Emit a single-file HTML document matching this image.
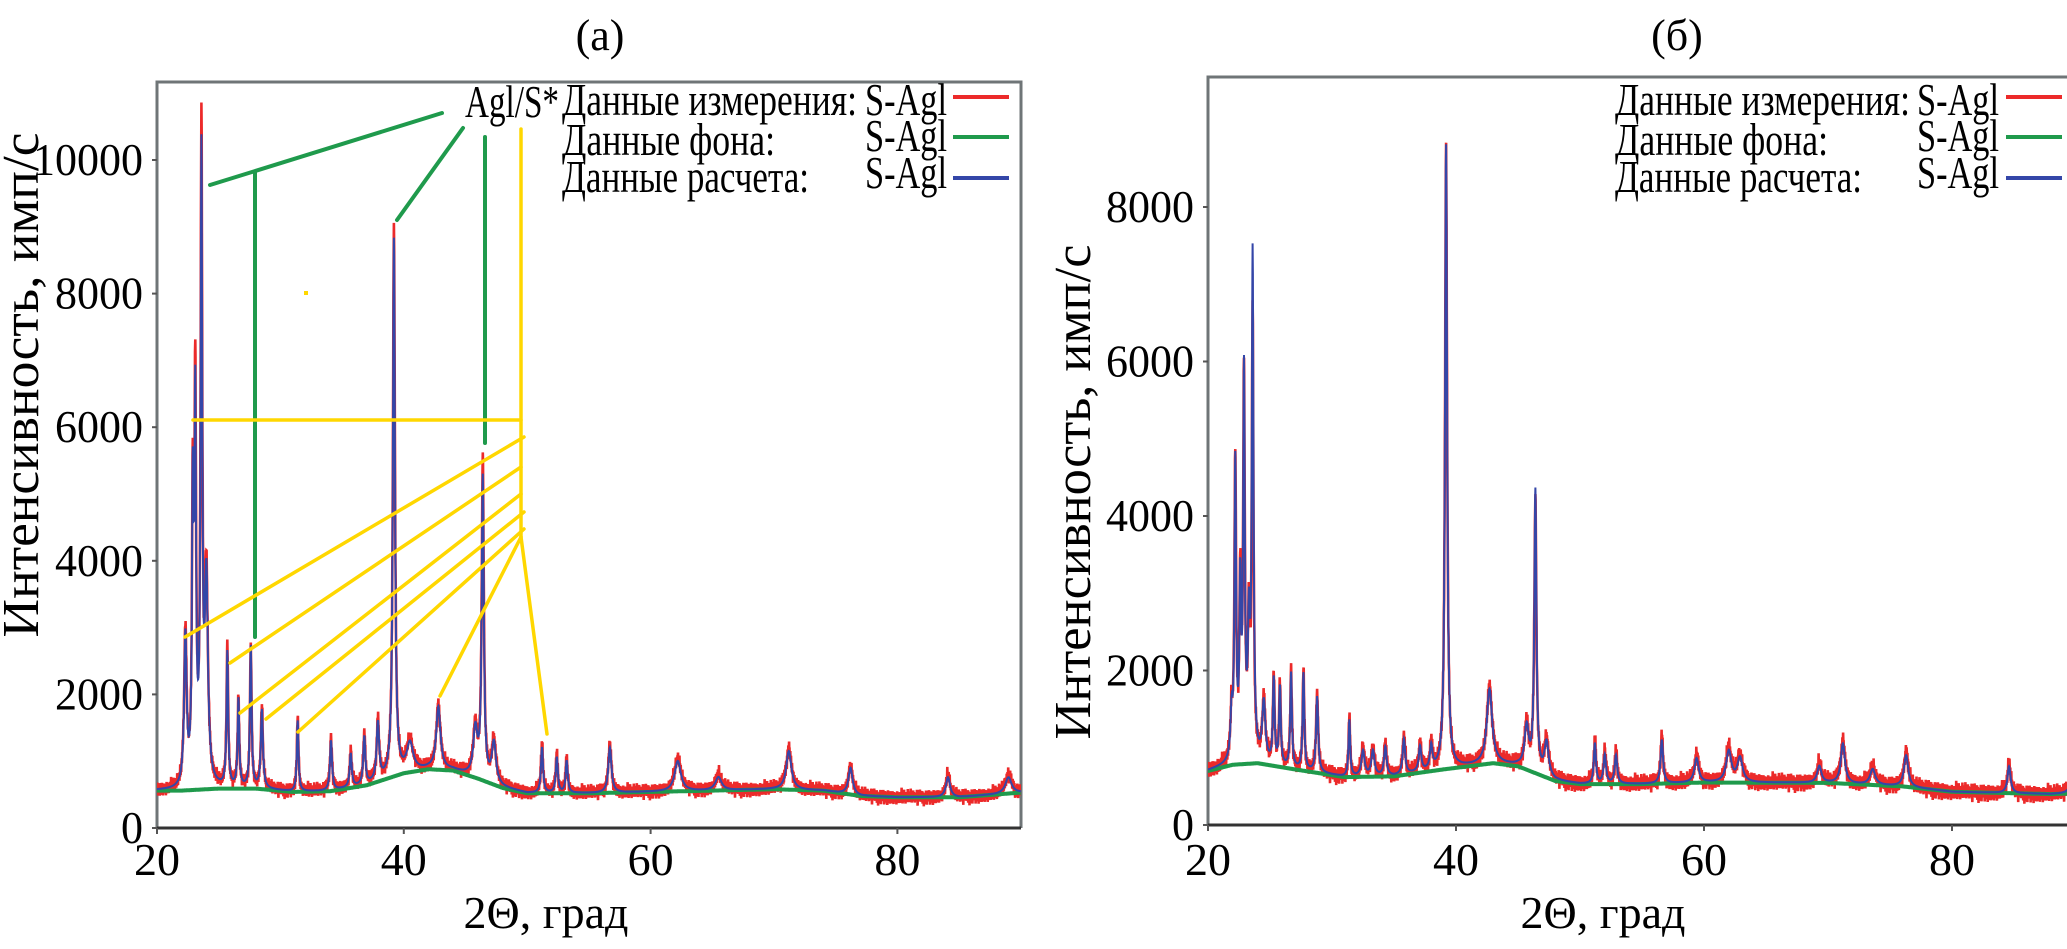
<!DOCTYPE html>
<html><head><meta charset="utf-8">
<style>
html,body{margin:0;padding:0;background:#fff;}
svg{display:block;}
text{font-family:"Liberation Serif","DejaVu Serif",serif;fill:#000;}
</style></head>
<body>
<svg id="chart" xmlns="http://www.w3.org/2000/svg" width="2067" height="949" viewBox="0 0 2067 949">
  <defs>
    <clipPath id="clipA"><rect x="157" y="82" width="864" height="746"/></clipPath>
    <clipPath id="clipB"><rect x="1208" y="77" width="859" height="750"/></clipPath>
  </defs>
  <text x="600" y="50" font-size="44" text-anchor="middle">(а)</text>
  <text x="1677" y="50" font-size="44" text-anchor="middle">(б)</text>
  <g id="panelA"></g>
  <g id="panelB"></g>
</svg>
<script>
// ---------- data: panel (a) ----------
const bgAX = [20, 22, 25, 28, 31, 34, 37, 40, 42, 44, 46, 48, 50, 55, 60, 65, 70, 74, 77, 80, 85, 90];
const bgAY = [560, 560, 590, 590, 540, 550, 640, 820, 880, 860, 740, 600, 520, 520, 540, 560, 580, 560, 480, 460, 460, 530];
const peakAPos = [22.3, 22.9, 23.1, 23.6, 24.0, 25.7, 26.6, 27.6, 28.5, 31.4, 34.1, 35.7, 36.8, 37.9, 39.2, 40.5, 42.8, 45.8, 46.4, 47.3, 51.2, 52.4, 53.2, 56.7, 62.2, 65.5, 71.2, 76.2, 84.1, 89.0];
const peakAMeas = [2900, 4800, 6400, 10250, 3700, 2700, 1950, 2700, 1800, 1650, 1350, 1150, 1400, 1600, 9000, 1300, 1850, 1500, 5500, 1300, 1250, 1100, 1050, 1250, 1050, 800, 1200, 950, 800, 800];
const peakACalc = [2800, 4700, 6000, 9800, 3600, 2600, 1900, 2700, 1750, 1600, 1300, 1100, 1350, 1550, 8800, 1250, 1800, 1450, 5200, 1250, 1200, 1050, 1000, 1200, 1000, 760, 1150, 900, 760, 760];
const peakAWid = [0.12, 0.08, 0.08, 0.08, 0.15, 0.08, 0.08, 0.08, 0.1, 0.08, 0.1, 0.1, 0.1, 0.12, 0.1, 0.3, 0.2, 0.2, 0.1, 0.2, 0.1, 0.1, 0.1, 0.15, 0.3, 0.3, 0.25, 0.2, 0.2, 0.3];
// ---------- data: panel (b) ----------
const bgBX = [20, 22, 24, 27, 31, 35, 39, 43, 45, 48, 50, 55, 60, 70, 76, 80, 88, 90];
const bgBY = [700, 780, 800, 720, 620, 630, 720, 800, 760, 570, 530, 530, 550, 545, 500, 430, 400, 410];
const peakBPos = [21.9, 22.2, 22.6, 22.9, 23.3, 23.6, 24.5, 25.3, 25.8, 26.7, 27.7, 28.8, 31.4, 32.5, 33.3, 34.3, 35.8, 37.1, 38.0, 39.2, 42.7, 45.7, 46.4, 47.3, 51.2, 52.0, 52.9, 56.6, 59.4, 62.0, 62.9, 69.3, 71.2, 73.6, 76.3, 84.6, 89.8];
const peakBMeas = [1400, 4700, 3000, 5700, 2500, 6500, 1600, 1900, 1800, 2000, 2000, 1700, 1400, 1000, 1000, 1050, 1150, 1050, 1050, 8800, 1800, 1300, 4200, 1100, 1100, 950, 950, 1150, 900, 1000, 900, 800, 1100, 750, 950, 800, 800];
const peakBCalc = [1350, 4600, 2900, 5700, 2400, 7250, 1550, 1850, 1750, 1950, 1950, 1650, 1350, 950, 950, 1000, 1100, 1000, 1000, 8800, 1750, 1250, 4300, 1050, 1050, 900, 900, 1100, 860, 950, 860, 760, 1050, 720, 900, 760, 760];
const peakBWid = [0.1, 0.08, 0.08, 0.08, 0.1, 0.08, 0.15, 0.08, 0.08, 0.08, 0.08, 0.1, 0.08, 0.15, 0.15, 0.12, 0.12, 0.12, 0.12, 0.1, 0.25, 0.2, 0.1, 0.2, 0.1, 0.12, 0.12, 0.12, 0.2, 0.25, 0.25, 0.2, 0.2, 0.25, 0.2, 0.15, 0.2];
// measurement scatter offsets (counts), cycled along the scan
const noise = [40, -60, 95, -20, -110, 70, 10, -85, 120, -35, 55, -130, 25, 85, -55, -5, 105, -95, 35, -70, 140, -15, -45, 65, -120, 15, 90, -80, 50, -25, 110, -100, 0, 75, -65, 30, -140];
const xTicks = [20, 40, 60, 80];
const yTicksA = [0, 2000, 4000, 6000, 8000, 10000];
const yTicksB = [0, 2000, 4000, 6000, 8000];

const NS = 'http://www.w3.org/2000/svg';
function mk(tag, parent, attrs) {
  const e = document.createElementNS(NS, tag);
  for (const k in attrs) e.setAttribute(k, attrs[k]);
  parent.appendChild(e);
  return e;
}
function interp(xs, ys, x) {
  if (x <= xs[0]) return ys[0];
  for (let i = 1; i < xs.length; i++) {
    if (x <= xs[i]) { const t = (x - xs[i-1]) / (xs[i] - xs[i-1]); return ys[i-1] + t * (ys[i] - ys[i-1]); }
  }
  return ys[ys.length - 1];
}
function spectrum(bx, by, pos, hts, wid, x) {
  let v = interp(bx, by, x);
  for (let i = 0; i < pos.length; i++) {
    const amp = hts[i] - interp(bx, by, pos[i]);
    const d = (x - pos[i]) / wid[i];
    v += amp / (1 + d * d);
  }
  return v;
}

function drawPanel(g, cfg) {
  const sx = v => cfg.x0 + (v - 20) * cfg.kx;
  const sy = v => cfg.y0 - v * cfg.ky;
  const frame = mk('path', g, {d: `M${cfg.x0},${cfg.y0} L${cfg.x0},${cfg.top} L${cfg.right},${cfg.top}` + (cfg.right < 2067 ? ` L${cfg.right},${cfg.y0}` : ''), fill: 'none', stroke: '#6f7577', 'stroke-width': 3});
  
  
  const cg = mk('g', g, {'clip-path': `url(#${cfg.clip})`});
  
  
  let dm = '', dc = '', db = '';
  let k = 0;
  for (let x = 20; x <= 90.001; x += 0.02, k++) {
    const c = spectrum(cfg.bx, cfg.by, cfg.pos, cfg.calc, cfg.wid, x);
    const m = spectrum(cfg.bx, cfg.by, cfg.pos, cfg.meas, cfg.wid, x) + noise[k % noise.length] * (0.6 + 0.4 * ((k * 7) % 5) / 4);
    const b = interp(cfg.bx, cfg.by, x);
    const px = sx(x).toFixed(1);
    dm += (k ? 'L' : 'M') + px + ',' + sy(m).toFixed(1);
    dc += (k ? 'L' : 'M') + px + ',' + sy(c).toFixed(1);
    db += (k ? 'L' : 'M') + px + ',' + sy(b).toFixed(1);
  }
  const pm = mk('path', cg, {d: dm, fill: 'none', stroke: '#ec2a2a', 'stroke-width': 2.6});
  
  
  const pb = mk('path', cg, {d: db, fill: 'none', stroke: '#1f9a4c', 'stroke-width': 4});
  
  
  const pc = mk('path', cg, {d: dc, fill: 'none', stroke: '#3446a8', 'stroke-width': 2});
  
  
  const xa = mk('line', g, {x1: cfg.x0, y1: cfg.y0, x2: Math.min(cfg.right, 2067), y2: cfg.y0, stroke: '#333', 'stroke-width': 3});
  
  
  xTicks.forEach(t => {
    const tl = mk('line', g, {x1: sx(t), y1: cfg.y0, x2: sx(t), y2: cfg.y0 + 6, stroke: '#555', 'stroke-width': 2});
    
    
    const tt = mk('text', g, {x: sx(t), y: 875, 'font-size': 46, 'text-anchor': 'middle'});
    tt.textContent = t;
    
    
  });
  cfg.yTicks.forEach(t => {
    const tl = mk('line', g, {x1: cfg.x0 - 5, y1: sy(t), x2: cfg.x0, y2: sy(t), stroke: '#555', 'stroke-width': 2});
    
    
    const s = String(t);
    const tt = mk('text', g, {x: cfg.x0 - 14, y: sy(t) + 15, 'font-size': 46, 'text-anchor': 'end', textLength: s.length * 22, lengthAdjust: 'spacingAndGlyphs'});
    tt.textContent = s;
    
    
  });
  const xt = mk('text', g, {x: cfg.xTitleX, y: 928, 'font-size': 46, 'text-anchor': 'middle'});
  xt.textContent = '2Θ, град';
  
  
  const yt = mk('text', g, {x: 0, y: 0, 'font-size': 52, 'text-anchor': 'middle', 'font-family': 'Liberation Serif, serif', textLength: cfg.yTitleLen, lengthAdjust: 'spacingAndGlyphs', transform: `translate(${cfg.yTitleX},${cfg.yTitleY}) rotate(-90)`});
  yt.textContent = 'Интенсивность, имп/с';
  
  
  const rows = [['Данные измерения:', '#ec2a2a', 295], ['Данные фона:', '#1f9a4c', 213], ['Данные расчета:', '#3446a8', 247]];
  const lg = mk('g', g, {});
  
  
  rows.forEach((r, i) => {
    const base = [115, 155, 192][i];
    const ly = [97, 137, 178][i];
    const t1 = mk('text', lg, {x: cfg.legX, y: base, 'font-size': 46, textLength: r[2], lengthAdjust: 'spacingAndGlyphs'});
    t1.textContent = r[0];
    
    
    const t2 = mk('text', lg, {x: cfg.legS, y: base - (i ? 4 : 0), 'font-size': 46, textLength: 82, lengthAdjust: 'spacingAndGlyphs'});
    t2.textContent = 'S-Agl';
    
    
    const sw = mk('line', lg, {x1: cfg.legL, y1: ly, x2: cfg.legL + 56, y2: ly, stroke: r[1], 'stroke-width': 4});
    
    
  });
}

const gA = document.getElementById('panelA');
const gB = document.getElementById('panelB');
drawPanel(gA, {x0: 157, kx: 12.34, y0: 828, ky: 0.0668, top: 82, right: 1021, clip: 'clipA',
  bx: bgAX, by: bgAY, pos: peakAPos, meas: peakAMeas, calc: peakACalc, wid: peakAWid, yTicks: yTicksA,
  xTitleX: 546, yTitleX: 38, yTitleY: 385, yTitleLen: 505, legX: 562, legS: 865, legL: 953});
drawPanel(gB, {x0: 1208, kx: 12.4, y0: 825, ky: 0.07725, top: 77, right: 2080, clip: 'clipB',
  bx: bgBX, by: bgBY, pos: peakBPos, meas: peakBMeas, calc: peakBCalc, wid: peakBWid, yTicks: yTicksB,
  xTitleX: 1603, yTitleX: 1090, yTitleY: 492, yTitleLen: 495, legX: 1615, legS: 1917, legL: 2006});

const ann = mk('g', gA, {'stroke-linecap': 'round'});


const lbl = mk('text', ann, {x: 465, y: 117, 'font-size': 46, textLength: 94, lengthAdjust: 'spacingAndGlyphs'});
lbl.textContent = 'Agl/S*';


const greens = [[442,113,210,185],[255,172,255,637],[463,128,397,220],[485,137,485,443]];
greens.forEach(s => {
  const l = mk('line', ann, {x1: s[0], y1: s[1], x2: s[2], y2: s[3], stroke: '#1f9a4c', 'stroke-width': 4});
  
  
});
const yellows = [[521,129,521,537],[193,420,521,420],[524,437,185,637],[521,467,230,663],[521,494,240,713],[524,512,266,719],[524,529,298,732],[521,537,440,696],[521,537,547,734]];
yellows.forEach(s => {
  const l = mk('line', ann, {x1: s[0], y1: s[1], x2: s[2], y2: s[3], stroke: '#ffd700', 'stroke-width': 3.5});
  
  
});
const dot = mk('rect', ann, {x: 304, y: 291, width: 4, height: 4, fill: '#ffd700'});


</script>
</body></html>
